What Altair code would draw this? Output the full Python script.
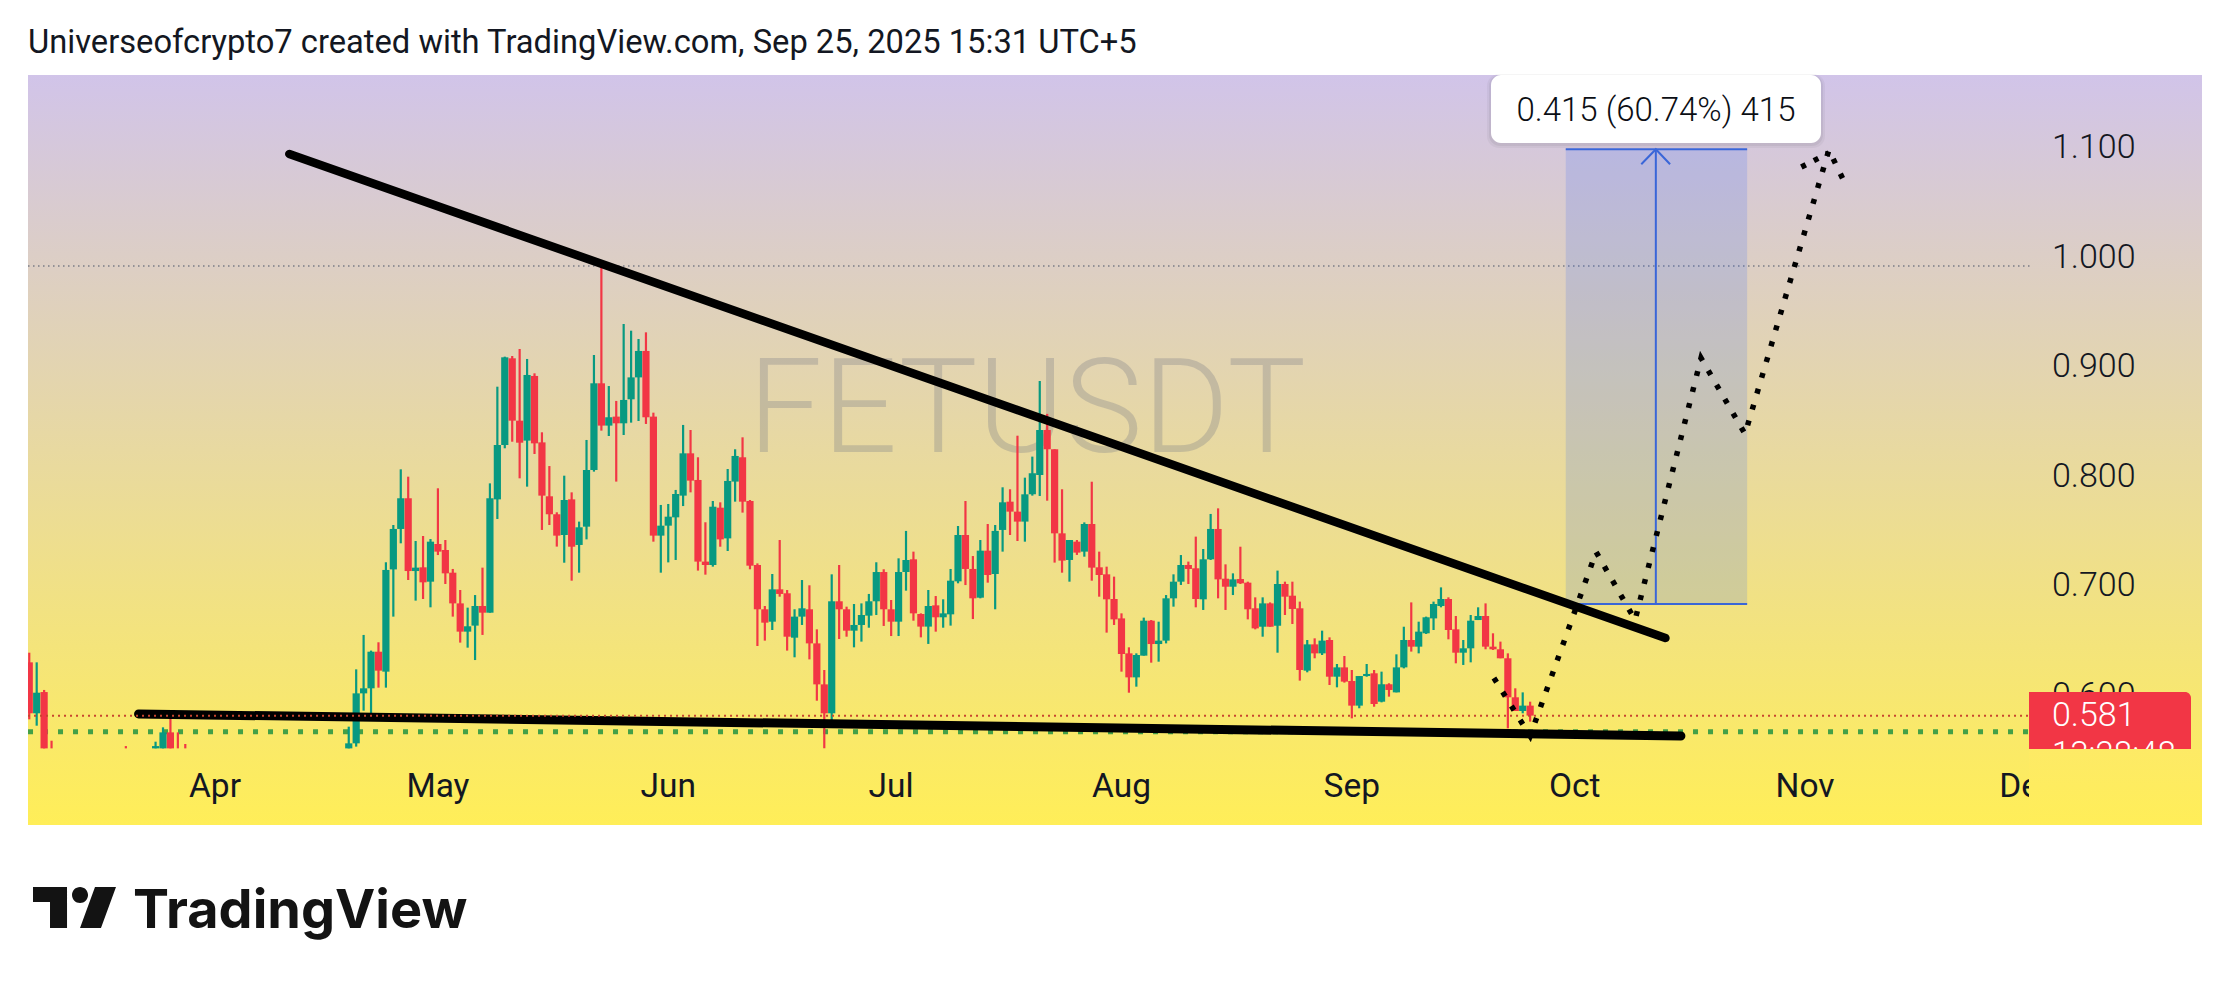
import altair as alt
import pandas as pd

# ---- candle data: day offsets from 2025-04-01 ----
day_offset = [-25, -24, -23, -22, -12, -8, -7, -6, -5, -4] + list(range(18, 178))

open_ = [
    .6298, .5833, .6027, .5513, .5513, .5513, .5513, .5659, .5513, .5513,
    .5513, .5559, .6015, .6061, .6395, .6213, .7146, .7515, .7795, .7131,
    .7165, .7034, .7378, .7323, .7116, .6836, .6578, .6633, .6812, .6751,
    .7785, .8281, .9072, .8503, .8321, .8911, .8305, .7813, .7649, .7460,
    .7785, .7369, .7536, .8053, .8844, .8458, .8540, .8479, .8698, .8898,
    .9139, .8540, .7454, .7545, .7621, .7819, .8205, .7962, .7217, .7186,
    .7709, .7429, .7947, .8169, .7770, .7186, .6782, .6669, .6964, .6928,
    .6523, .6715, .6782, .6471, .6097, .5833, .6855, .6782, .6587, .6639,
    .6724, .6855, .7122, .6782, .6669, .7122, .7238, .6739, .6624, .6818,
    .6709, .6736, .7037, .7460, .7150, .6888, .7317, .7104, .7506, .7764,
    .7673, .7582, .7831, .8007, .8418, .8242, .7475, .7232, .7399, .7308,
    .7560, .7165, .7101, .6876, .6699, .6380, .6161, .6359, .6678, .6465,
    .6496, .6882, .7034, .7186, .7156, .6873, .7238, .7515, .7061, .6988,
    .7058, .7025, .6791, .6623, .6836, .6632, .7013, .6906, .6791, .6222,
    .6462, .6380, .6502, .6167, .6252, .6128, .5903, .6173, .6198, .5939,
    .6098, .6024, .6252, .6502, .6441, .6563, .6699, .6812, .6876, .6599,
    .6386, .6426, .6684, .6721, .6441, .6417, .6335, .5979, .5854, .5903,
]
close = [
    .5833, .6021, .5513, .5513, .5513, .5534, .5659, .5513, .5513, .5513,
    .5559, .6015, .6061, .6395, .6222, .7141, .7515, .7795, .7131, .7162,
    .7028, .7399, .7308, .7110, .6836, .6578, .6627, .6812, .6751, .7795,
    .8281, .9081, .8503, .8302, .8920, .8296, .7819, .7649, .7454, .7779,
    .7353, .7530, .8053, .8844, .8458, .8534, .8479, .8692, .8898, .9139,
    .8534, .7454, .7545, .7627, .7834, .8205, .7956, .7217, .7186, .7718,
    .7420, .7953, .8181, .7764, .7180, .6782, .6660, .6964, .6922, .6532,
    .6715, .6791, .6471, .6097, .5833, .6855, .6782, .6587, .6639, .6730,
    .6855, .7122, .6782, .6669, .7122, .7232, .6745, .6624, .6812, .6709,
    .6745, .7043, .7460, .7150, .6882, .7317, .7095, .7497, .7758, .7673,
    .7582, .7831, .8023, .8418, .8242, .7475, .7226, .7414, .7299, .7560,
    .7162, .7095, .6873, .6690, .6374, .6161, .6365, .6678, .6465, .6496,
    .6882, .7034, .7186, .7150, .6876, .7238, .7515, .7055, .6988, .7055,
    .7019, .6782, .6608, .6836, .6623, .7013, .6897, .6785, .6228, .6462,
    .6380, .6496, .6167, .6252, .6122, .5903, .6173, .6192, .5918, .6098,
    .6046, .6252, .6502, .6441, .6578, .6709, .6830, .6876, .6593, .6386,
    .6426, .6678, .6721, .6441, .6417, .6335, .5979, .5854, .5903, .5812,
]
high = [
    .6386, .6298, .6046, .5583, .5534, .5574, .5705, .5842, .5659, .5553,
    .5711, .6234, .6548, .6405, .6481, .7211, .7551, .8059, .7992, .7405,
    .7451, .7423, .7886, .7414, .7150, .6958, .6797, .6912, .7162, .7931,
    .8813, .9087, .9093, .9157, .9066, .8935, .8397, .8089, .7667, .8001,
    .7849, .7582, .8327, .9102, .9914, .8819, .8683, .9385, .9324, .9248,
    .9309, .8576, .7734, .7743, .7871, .8464, .8418, .8169, .7576, .7770,
    .7758, .8062, .8242, .8351, .7779, .7201, .6812, .7104, .7414, .6958,
    .6782, .7049, .7001, .6599, .6228, .7101, .7186, .6806, .6830, .6836,
    .6922, .7211, .7147, .6867, .7247, .7497, .7308, .6745, .6958, .6903,
    .6873, .7150, .7542, .7770, .7268, .7414, .7560, .7551, .7895, .7877,
    .8366, .7983, .8175, .8865, .8565, .8242, .7877, .7414, .7414, .7575,
    .7946, .7308, .7171, .7080, .6745, .6435, .6380, .6706, .6684, .6669,
    .6912, .7101, .7277, .7217, .7445, .7332, .7652, .7703, .7192, .7110,
    .7353, .7034, .6891, .6891, .6845, .7135, .7034, .7034, .6852, .6502,
    .6517, .6587, .6526, .6283, .6356, .6228, .6173, .6283, .6228, .6213,
    .6107, .6371, .6623, .6845, .6669, .6715, .6852, .6982, .6891, .6721,
    .6502, .6730, .6800, .6836, .6563, .6487, .6380, .6061, .6024, .5939,
]
low = [
    .5778, .5720, .5513, .5513, .5513, .5513, .5513, .5513, .5513, .5513,
    .5513, .5529, .5857, .5833, .6067, .6067, .6715, .7384, .7049, .6861,
    .6876, .6800, .7277, .7013, .6715, .6478, .6432, .6319, .6548, .6751,
    .7606, .8251, .8311, .7977, .7901, .8199, .7506, .7551, .7354, .7207,
    .7043, .7116, .7420, .8038, .8412, .8363, .7947, .8372, .8485, .8500,
    .8473, .7399, .7116, .7210, .7232, .7724, .7849, .7135, .7098, .7171,
    .7353, .7314, .7764, .7664, .7147, .6447, .6496, .6593, .6897, .6405,
    .6344, .6639, .6325, .5948, .5514, .5772, .6511, .6532, .6435, .6487,
    .6614, .6730, .6630, .6538, .6538, .6952, .6678, .6526, .6466, .6578,
    .6614, .6633, .7019, .7003, .6693, .6882, .7025, .6782, .7308, .7460,
    .7405, .7399, .7819, .7816, .7773, .7208, .7116, .7034, .7278, .7262,
    .7043, .6897, .6569, .6639, .6213, .6021, .6076, .6359, .6295, .6304,
    .6471, .6806, .7004, .7013, .6800, .6776, .7232, .6882, .6776, .6912,
    .7013, .6690, .6599, .6532, .6623, .6386, .6730, .6648, .6131, .6207,
    .6335, .6365, .6091, .6070, .6113, .5787, .5879, .6167, .5893, .5933,
    .5985, .6024, .6243, .6396, .6380, .6557, .6593, .6800, .6508, .6289,
    .6274, .6298, .6684, .6417, .6411, .6335, .5696, .5854, .5833, .5757,
]

# ---- axis labels ----
month_labels = ["Apr", "May", "Jun", "Jul", "Aug", "Sep", "Oct", "Nov", "Dec"]
month_dates = ["2025-04-01T00:00:00Z", "2025-05-01T00:00:00Z", "2025-06-01T00:00:00Z",
               "2025-07-01T00:00:00Z", "2025-08-01T00:00:00Z", "2025-09-01T00:00:00Z",
               "2025-10-01T00:00:00Z", "2025-11-01T00:00:00Z", "2025-12-01T00:00:00Z"]
price_ticks = [1.1, 1.0, 0.9, 0.8, 0.7, 0.6]
price_labels = ["1.100", "1.000", "0.900", "0.800", "0.700", "0.600"]

# ---- drawings ----
support_dates = ["2025-03-21T17:00:00Z", "2025-10-15T07:00:00Z"]
support_prices = [.5827, .5626]
resist_dates = ["2025-04-11T00:00:00Z", "2025-10-13T05:00:00Z"]
resist_prices = [1.0936, .652]
path_dates = ["2025-09-20T03:00:00Z", "2025-09-25T00:00:00Z", "2025-10-03T21:00:00Z",
              "2025-10-09T03:00:00Z", "2025-10-18T00:00:00Z", "2025-10-23T22:00:00Z",
              "2025-11-04T05:00:00Z", "2025-11-06T10:00:00Z"]
path_prices = [.6155, .5626, .7305, .6684, .9075, .8381, 1.0973, 1.0662]
extra_dates = ["2025-10-31T12:00:00Z", "2025-11-04T05:00:00Z"]
extra_prices = [1.0818, 1.0945]
box_dates = ["2025-09-29T19:00:00Z", "2025-10-24T05:00:00Z"]
box_mid_date = "2025-10-11T22:00:00Z"
box_prices = [.683, 1.098]
arrow_dates = ["2025-10-09T23:00:00Z", box_mid_date, "2025-10-13T20:00:00Z"]
arrow_prices = [1.0843, 1.098, 1.0843]
pane_left = "2025-03-06T20:00:00Z"
pane_right = "2025-12-01T05:00:00Z"
last_price = .581
high_line = .9914
green_line = .5665

INK = "#131722"
UP = "#089981"
DOWN = "#f23645"
BLUE = "#3a66d8"

x_scale = alt.Scale(type="utc", domain=["2025-03-04T03:20:00Z", "2025-12-27T06:00:00Z"], nice=False, padding=0)
y_scale = alt.Scale(domain=[.34179, 1.22682], zero=False, nice=False, padding=0)
X = alt.X("d:T", scale=x_scale, axis=None)
X2 = alt.X2("d2")
Y = alt.Y("p:Q", scale=y_scale, axis=None)
Y2 = alt.Y2("p2")

one = pd.DataFrame({"a": [0]})

dates = [(pd.Timestamp("2025-04-01") + pd.Timedelta(days=k)).strftime("%Y-%m-%dT00:00:00Z") for k in day_offset]
candles = pd.DataFrame({"d": dates, "o": open_, "h": high, "l": low, "c": close})
candles["up"] = ["up" if c > o else "down" for o, c in zip(open_, close)]
colour = alt.Color("up:N", scale=alt.Scale(domain=["up", "down"], range=[UP, DOWN]), legend=None)


def rect_px(x0, x1, y0, y1, **kw):
    return alt.Chart(one).mark_rect(**kw).encode(
        x=alt.value(x0), x2=alt.value(x1), y=alt.value(y0), y2=alt.value(y1))


def line(ds, ps, **kw):
    df = pd.DataFrame({"d": ds, "p": ps, "k": range(len(ds))})
    return alt.Chart(df).mark_line(**kw).encode(x=X, y=Y, order="k:Q")


def hline(price, **kw):
    df = pd.DataFrame({"d": [pane_left], "d2": [pane_right], "p": [price]})
    return alt.Chart(df).mark_rule(**kw).encode(x=X, x2=X2, y=Y)


def text_px(s, x, y, **kw):
    return alt.Chart(pd.DataFrame({"t": [s]})).mark_text(font="Roboto", **kw).encode(
        x=alt.value(x), y=alt.value(y), text="t:N")


grad = alt.Gradient(gradient="linear", x1=0, y1=0, x2=0, y2=1, stops=[
    alt.GradientStop(color="#d1c4e9", offset=0),
    alt.GradientStop(color="#ffee58", offset=1)])
cover_grad = alt.Gradient(gradient="linear", x1=0, y1=0, x2=0, y2=1, stops=[
    alt.GradientStop(color="#fdea66", offset=0),
    alt.GradientStop(color="#ffee58", offset=1)])

panel = rect_px(20, 2194, 67, 817, fill=grad)
watermark = text_px("FETUSDT", 740, 404, align="left", baseline="middle", fontSize=132,
                    fontWeight=300, color="#787b86", opacity=0.3)
title = text_px("Universeofcrypto7 created with TradingView.com, Sep 25, 2025 15:31 UTC+5",
                20, 35, align="left", baseline="middle", fontSize=32.7, color=INK, fontWeight=400)

months = alt.Chart(pd.DataFrame({"d": month_dates, "t": month_labels})).mark_text(
    font="Roboto", fontSize=33.5, color=INK, baseline="middle").encode(
    x=alt.X("d:T", scale=x_scale, axis=None), y=alt.value(779), text="t:N")
prices = alt.Chart(pd.DataFrame({"p": price_ticks, "t": price_labels})).mark_text(
    font="Roboto", fontSize=34, fontWeight=300, color=INK, align="left", baseline="middle", dy=1).encode(
    x=alt.value(2044), y=Y, text="t:N")

high_rule = hline(high_line, color="#787b86", strokeWidth=1.5, strokeDash=[1.5, 3.5])
green_rule = hline(green_line, color="#43a047", strokeWidth=5, strokeDash=[5, 10])
red_rule = hline(last_price, color="#c8452f", strokeWidth=2, strokeDash=[2, 4])

wicks = alt.Chart(candles).mark_rule(strokeWidth=2.2).encode(
    x=X, y=alt.Y("h:Q", scale=y_scale, axis=None), y2=alt.Y2("l"), color=colour)
bodies = alt.Chart(candles).mark_bar(size=7.2).encode(
    x=X, y=alt.Y("o:Q", scale=y_scale, axis=None), y2=alt.Y2("c"), color=colour)

zone_df = pd.DataFrame({"d": [box_dates[0]], "d2": [box_dates[1]], "p": [box_prices[0]], "p2": [box_prices[1]]})
zone = alt.Chart(zone_df).mark_rect(color="#2962ff", opacity=0.165).encode(x=X, x2=X2, y=Y, y2=Y2)
zone_rules = alt.Chart(pd.DataFrame({"d": [box_dates[0]] * 2, "d2": [box_dates[1]] * 2, "p": box_prices})).mark_rule(
    color=BLUE, strokeWidth=2).encode(x=X, x2=X2, y=Y)
zone_mid = alt.Chart(pd.DataFrame({"d": [box_mid_date], "p": [box_prices[0]], "p2": [box_prices[1]]})).mark_rule(
    color=BLUE, strokeWidth=2).encode(x=X, y=Y, y2=Y2)
arrow = line(arrow_dates, arrow_prices, color=BLUE, strokeWidth=2)

support = line(support_dates, support_prices, color="black", strokeWidth=9, strokeCap="round")
resist = line(resist_dates, resist_prices, color="black", strokeWidth=8.5, strokeCap="round")
forecast = line(path_dates, path_prices, color="black", strokeWidth=5.5, strokeDash=[5, 11.5])
forecast2 = line(extra_dates, extra_prices, color="black", strokeWidth=5.5, strokeDash=[5, 9])

shadow1 = rect_px(1479, 1817, 66, 140, fill="black", opacity=0.04, cornerRadius=12)
shadow2 = rect_px(1481, 1815, 67, 138, fill="black", opacity=0.05, cornerRadius=11)
tag = rect_px(1483, 1813, 67, 135, fill="white", cornerRadius=10)
tag_text = text_px("0.415 (60.74%) 415", 1648, 103, align="center", baseline="middle", fontSize=33,
                   fontWeight=300, color="#0b0e14")

price_box = rect_px(2021, 2183, 684, 741, fill=DOWN, cornerRadiusTopRight=6)
price_text = alt.Chart(pd.DataFrame({"p": [last_price], "t": ["0.581"]})).mark_text(
    font="Roboto", fontSize=34, fontWeight=300, color="white", align="left", baseline="middle").encode(
    x=alt.value(2044), y=Y, text="t:N")
count_text = text_px("13:28:48", 2044, 747, align="left", baseline="middle", fontSize=33,
                     fontWeight=300, color="white")
cover = rect_px(2021, 2194, 741, 817, fill=cover_grad)
left_cover = rect_px(0, 20, 67, 817, fill="white")

logo_path = ("M-1,-.494 L-.18,-.494 L-.18,.494 L-.59,.494 L-.59,-.133 L-1,-.133 Z "
             "M-.06,-.301 A.193,.193 0 1 1 .326,-.301 A.193,.193 0 1 1 -.06,-.301 Z "
             "M.494,-.494 L1,-.494 L.638,.494 L.133,.494 Z")
logo_icon = alt.Chart(one).mark_point(shape=logo_path, size=6889, filled=True, color="#131313", opacity=1).encode(
    x=alt.value(66.5), y=alt.value(899.5))
logo_text = alt.Chart(pd.DataFrame({"t": ["TradingView"]})).mark_text(
    font="Inter", fontSize=54, fontWeight=700, color="#131313", align="left", baseline="alphabetic").encode(
    x=alt.value(125), y=alt.value(920), text="t:N")

chart = alt.layer(
    panel, title, high_rule, watermark, months, prices, green_rule,
    wicks, bodies, zone, zone_rules, zone_mid, arrow,
    support, resist, red_rule, forecast, forecast2,
    shadow1, shadow2, tag, tag_text, price_box, price_text, count_text, cover, left_cover,
    logo_icon, logo_text,
).properties(width=2215, height=970, padding=0, background="white",
             autosize=alt.AutoSizeParams(type="none")
).configure_view(strokeWidth=0)

chart.save("out.html", embed_options={"renderer": "svg", "actions": False})
